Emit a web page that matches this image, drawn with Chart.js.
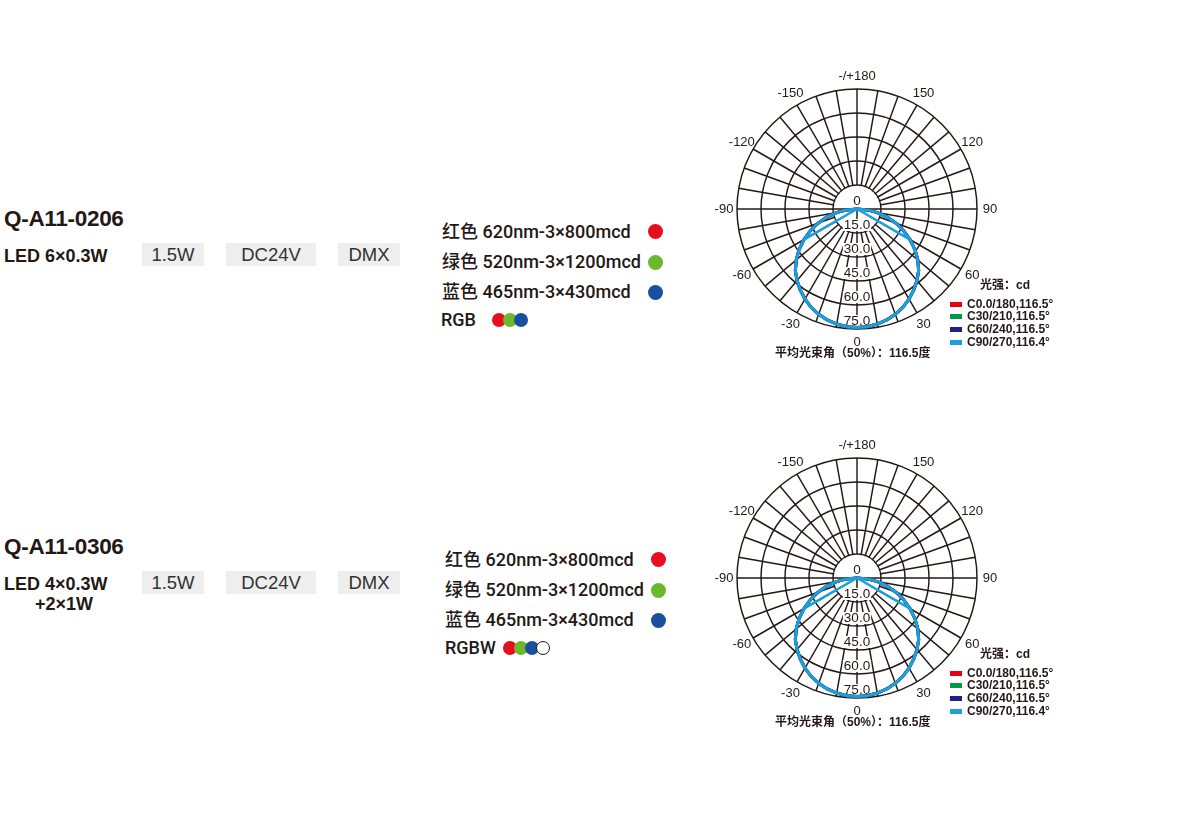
<!DOCTYPE html>
<html>
<head>
<meta charset="utf-8">
<script src="https://cdn.jsdelivr.net/npm/chart.js@4.4.1/dist/chart.umd.min.js"></script>
<style>
  body { margin: 0; background: #fff; width: 1200px; height: 829px; position: relative; overflow: hidden;
         font-family: "Liberation Sans", "Noto Sans CJK SC", sans-serif; color: #231815; }
  .abs { position: absolute; white-space: nowrap; }
  .title { font-size: 22.5px; font-weight: bold; line-height: 26px; letter-spacing: -0.3px; }
  .led { font-size: 18px; font-weight: bold; line-height: 20px; }
  .box { background: #eeeeee; font-size: 18.5px; text-align: center; height: 23px; line-height: 23px; color: #333; }
  .spec { font-family: "Roboto", "Noto Sans CJK SC", sans-serif; font-size: 18px; font-weight: 500; line-height: 24px; }
  .dot { position: absolute; border-radius: 50%; }
  .small { font-family: "Liberation Sans", "Noto Sans CJK SC", sans-serif; font-size: 12px; font-weight: bold; line-height: 13px; }
  .sw { position: absolute; width: 12px; height: 5px; }
  canvas { position: absolute; }
</style>
</head>
<body>

<!-- row 1 -->
<div class="abs title" style="left:4px;top:206px;">Q-A11-0206</div>
<div class="abs led" style="left:4px;top:246px;">LED 6×0.3W</div>
<div class="abs box" style="left:142px;top:243px;width:62px;">1.5W</div>
<div class="abs box" style="left:226px;top:243px;width:90px;">DC24V</div>
<div class="abs box" style="left:338px;top:243px;width:62px;">DMX</div>

<div class="abs spec" style="left:442px;top:220px;">红色 620nm-3×800mcd</div>
<div class="abs spec" style="left:442px;top:250px;">绿色 520nm-3×1200mcd</div>
<div class="abs spec" style="left:442px;top:280px;">蓝色 465nm-3×430mcd</div>
<div class="abs spec" style="left:441px;top:308px;">RGB</div>
<div class="dot" style="left:648px;top:224px;width:15px;height:15px;background:#e60f1e;"></div>
<div class="dot" style="left:648px;top:255px;width:15px;height:15px;background:#6bb82d;"></div>
<div class="dot" style="left:648px;top:285px;width:15px;height:15px;background:#1a4f9f;"></div>
<div class="dot" style="left:492px;top:313px;width:14px;height:14px;background:#e60f1e;"></div>
<div class="dot" style="left:503px;top:313px;width:14px;height:14px;background:#6bb82d;"></div>
<div class="dot" style="left:514px;top:313px;width:14px;height:14px;background:#1a4f9f;"></div>

<!-- row 2 -->
<div class="abs title" style="left:4px;top:534px;">Q-A11-0306</div>
<div class="abs led" style="left:4px;top:574px;">LED 4×0.3W</div>
<div class="abs led" style="left:35px;top:594px;">+2×1W</div>
<div class="abs box" style="left:142px;top:571px;width:62px;">1.5W</div>
<div class="abs box" style="left:226px;top:571px;width:90px;">DC24V</div>
<div class="abs box" style="left:338px;top:571px;width:62px;">DMX</div>

<div class="abs spec" style="left:445px;top:548px;">红色 620nm-3×800mcd</div>
<div class="abs spec" style="left:445px;top:578px;">绿色 520nm-3×1200mcd</div>
<div class="abs spec" style="left:445px;top:608px;">蓝色 465nm-3×430mcd</div>
<div class="abs spec" style="left:445px;top:636px;">RGBW</div>
<div class="dot" style="left:651px;top:552px;width:15px;height:15px;background:#e60f1e;"></div>
<div class="dot" style="left:651px;top:583px;width:15px;height:15px;background:#6bb82d;"></div>
<div class="dot" style="left:651px;top:613px;width:15px;height:15px;background:#1a4f9f;"></div>
<div class="dot" style="left:503px;top:641px;width:14px;height:14px;background:#e60f1e;"></div>
<div class="dot" style="left:514px;top:641px;width:14px;height:14px;background:#6bb82d;"></div>
<div class="dot" style="left:525px;top:641px;width:14px;height:14px;background:#1a4f9f;"></div>
<div class="dot" style="left:536px;top:641px;width:12px;height:12px;background:#fff;border:1px solid #231815;"></div>

<canvas id="polar1" width="300" height="300" style="left:707px;top:59px;"></canvas>
<canvas id="polar2" width="300" height="300" style="left:707px;top:428px;"></canvas>

<script>
// luminous intensity (cd) per gamma angle, same for every C-plane pair
const gammaAngles = [0, 5, 10, 15, 20, 25, 30, 35, 40, 45, 50, 55, 60, 65, 70, 75, 80, 85, 90];
const c0Values  = [74, 73.8, 73.0, 71.8, 70.0, 67.8, 65.0, 61.8, 58.3, 54.5, 49.6, 44.2, 38.3, 32.2, 25.9, 19.5, 13.0, 6.5, 0];
const c30Values = [74, 73.8, 73.0, 71.8, 70.0, 67.8, 65.0, 61.8, 58.3, 54.5, 49.6, 44.2, 38.3, 32.2, 25.9, 19.5, 13.0, 6.5, 0];
const c60Values = [74, 73.8, 73.0, 71.8, 70.0, 67.8, 65.0, 61.8, 58.3, 54.5, 49.6, 44.2, 38.3, 32.2, 25.9, 19.5, 13.0, 6.5, 0];
const c90Values = [74, 73.8, 73.0, 71.8, 70.0, 67.8, 65.0, 61.8, 58.3, 54.5, 49.6, 44.2, 38.3, 32.2, 25.9, 19.5, 13.0, 6.5, 0];
const chordAngles = [-60, 60];

const seriesNames = ["C0.0/180,116.5°", "C30/210,116.5°", "C60/240,116.5°", "C90/270,116.4°"];
const seriesColors = ["#e60012", "#009944", "#1d2088", "#1c9fdf"];
const seriesValues = [c0Values, c30Values, c60Values, c90Values];

const angleStep = 5;
const ringMax = 75;
const ringStep = 15;
const angleLabelValues = [0, 30, 60, 90, 120, 150, 180, -150, -120, -90, -60, -30];
const angleLabelText = ["0", "30", "60", "90", "120", "150", "-/+180", "-150", "-120", "-90", "-60", "-30"];

const gridColor = "#231815";
const textColor = "#231815";
const gridWidth = 1.45;

// radar labels go clockwise from the bottom, i.e. 0, -5, -10 ...
const count = 360 / angleStep;
const labels = [];
for (let i = 0; i < count; i++) {
    let a = -i * angleStep;
    if (a < -180) a += 360;
    labels.push(a);
}

function valueAt(values, a) {
    const idx = gammaAngles.indexOf(Math.abs(a));
    return idx === -1 ? 0 : values[idx];
}

function indexOfAngle(a) {
    return ((-a / angleStep) % count + count) % count;
}

const polarDecor = {
    id: "polarDecor",
    beforeDatasetsDraw(chart) {
        const s = chart.scales.r;
        const ctx = chart.ctx;
        const cx = s.xCenter, cy = s.yCenter;
        const inner = s.getDistanceFromCenterForValue(ringStep);
        ctx.save();
        ctx.fillStyle = "#fff";
        ctx.beginPath();
        ctx.arc(cx, cy, inner - 0.8, 0, Math.PI * 2);
        ctx.fill();
        ctx.strokeStyle = gridColor;
        ctx.lineWidth = gridWidth;
        ctx.beginPath();
        ctx.moveTo(cx - inner, cy);
        ctx.lineTo(cx + inner, cy);
        ctx.moveTo(cx, cy);
        ctx.lineTo(cx, cy + inner);
        ctx.stroke();

        ctx.font = '13.5px "Liberation Sans"';
        ctx.textAlign = "center";
        ctx.textBaseline = "middle";
        s.ticks.forEach(t => {
            const d = s.getDistanceFromCenterForValue(t.value);
            const txt = t.value === 0 ? "0" : t.value.toFixed(1);
            const y = cy + d - 8;
            const w = ctx.measureText(txt).width;
            ctx.fillStyle = "#fff";
            ctx.fillRect(cx - w / 2 - 1, y - 6, w + 2, 12);
            ctx.fillStyle = textColor;
            ctx.fillText(txt, cx, y);
        });
        ctx.restore();
    },
    afterDraw(chart) {
        const s = chart.scales.r;
        const ctx = chart.ctx;
        ctx.save();
        ctx.font = '13px "Liberation Sans"';
        ctx.fillStyle = textColor;
        ctx.textAlign = "center";
        ctx.textBaseline = "middle";
        angleLabelValues.forEach((a, k) => {
            const p = s.getPointPosition(indexOfAngle(a), s.drawingArea + 13);
            ctx.fillText(angleLabelText[k], p.x, p.y);
        });
        ctx.restore();
    }
};

function makePolar(id) {
    const datasets = seriesNames.map((name, i) => ({
        label: name,
        data: labels.map(a => valueAt(seriesValues[i], a)),
        borderColor: seriesColors[i],
        borderWidth: 3,
        fill: false,
        order: seriesNames.length - i
    }));
    datasets.push({
        label: "chord",
        data: labels.map(a => chordAngles.includes(a) ? valueAt(c90Values, a) : 0),
        borderColor: seriesColors[3],
        borderWidth: 2.5,
        fill: false,
        order: 0
    });

    new Chart(document.getElementById(id), {
        type: "radar",
        data: { labels: labels, datasets: datasets },
        options: {
            responsive: false,
            animation: false,
            layout: { padding: 30 },
            elements: {
                point: { radius: 0, hoverRadius: 0 },
                line: { tension: 0, borderJoinStyle: "round" }
            },
            plugins: { legend: { display: false }, tooltip: { enabled: false } },
            scales: {
                r: {
                    min: 0,
                    max: ringMax,
                    startAngle: 180,
                    ticks: { display: false, stepSize: ringStep },
                    pointLabels: { display: false },
                    grid: { color: gridColor, lineWidth: gridWidth, circular: true },
                    angleLines: {
                        color: gridColor,
                        lineWidth: ctx => (ctx.index * angleStep) % 10 === 0 ? gridWidth : 0
                    }
                }
            }
        },
        plugins: [polarDecor]
    });
}

function makeLegend(top) {
    const t = document.createElement("div");
    t.className = "abs small";
    t.style.left = "980px";
    t.style.top = (top - 7) + "px";
    t.textContent = "光强：cd";
    document.body.appendChild(t);
    seriesNames.forEach((name, i) => {
        const y = top + 18 + i * 12.7;
        const sw = document.createElement("div");
        sw.className = "sw";
        sw.style.left = "950px";
        sw.style.top = (y - 2.5) + "px";
        sw.style.background = seriesColors[i];
        document.body.appendChild(sw);
        const tx = document.createElement("div");
        tx.className = "abs small";
        tx.style.left = "967px";
        tx.style.top = (y - 6.5) + "px";
        tx.textContent = name;
        document.body.appendChild(tx);
    });
}

function makeCaption(top) {
    const c = document.createElement("div");
    c.className = "abs small";
    c.style.left = "775px";
    c.style.top = (top - 6.5) + "px";
    c.textContent = "平均光束角（50%）：116.5度";
    document.body.appendChild(c);
}

makePolar("polar1");
makePolar("polar2");
makeLegend(286);
makeLegend(655);
makeCaption(353);
makeCaption(722);
</script>
</body>
</html>
